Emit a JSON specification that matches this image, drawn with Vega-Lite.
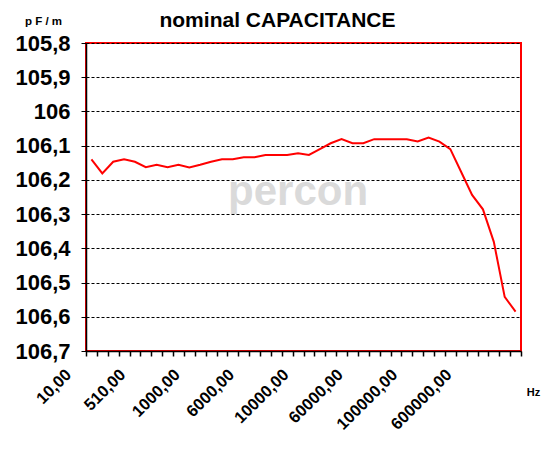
{
  "$schema": "https://vega.github.io/schema/vega-lite/v6.json",
  "autosize": {"type": "none"},
  "padding": {"left": 86, "top": 43, "right": 29, "bottom": 111},
  "width": 435,
  "height": 308,
  "config": {
    "font": "Liberation Sans",
    "view": {"stroke": "#FF0000", "strokeWidth": 2},
    "background": "white"
  },
  "title": {
    "text": "nominal CAPACITANCE",
    "fontSize": 21,
    "fontWeight": "bold",
    "color": "#000000",
    "anchor": "middle",
    "frame": "group",
    "dx": -26,
    "offset": -16
  },
  "datasets": {
    "capacitance": [
      {"freq": 10, "cap": 106.14},
      {"freq": 110, "cap": 106.181},
      {"freq": 210, "cap": 106.147},
      {"freq": 310, "cap": 106.14},
      {"freq": 410, "cap": 106.147},
      {"freq": 510, "cap": 106.163},
      {"freq": 610, "cap": 106.156},
      {"freq": 710, "cap": 106.163},
      {"freq": 810, "cap": 106.156},
      {"freq": 910, "cap": 106.164},
      {"freq": 1000, "cap": 106.156},
      {"freq": 2000, "cap": 106.147},
      {"freq": 3000, "cap": 106.14},
      {"freq": 4000, "cap": 106.14},
      {"freq": 5000, "cap": 106.134},
      {"freq": 6000, "cap": 106.134},
      {"freq": 7000, "cap": 106.127},
      {"freq": 8000, "cap": 106.127},
      {"freq": 9000, "cap": 106.127},
      {"freq": 9500, "cap": 106.122},
      {"freq": 10000, "cap": 106.127},
      {"freq": 20000, "cap": 106.11},
      {"freq": 30000, "cap": 106.093},
      {"freq": 40000, "cap": 106.081},
      {"freq": 50000, "cap": 106.093},
      {"freq": 60000, "cap": 106.093},
      {"freq": 70000, "cap": 106.081},
      {"freq": 80000, "cap": 106.081},
      {"freq": 90000, "cap": 106.081},
      {"freq": 95000, "cap": 106.081},
      {"freq": 100000, "cap": 106.088},
      {"freq": 200000, "cap": 106.076},
      {"freq": 300000, "cap": 106.088},
      {"freq": 400000, "cap": 106.11},
      {"freq": 500000, "cap": 106.177},
      {"freq": 600000, "cap": 106.244},
      {"freq": 700000, "cap": 106.286},
      {"freq": 800000, "cap": 106.381},
      {"freq": 900000, "cap": 106.542},
      {"freq": 1000000, "cap": 106.585}
    ],
    "watermark": [{"freq": 9500, "cap": 106.235, "t": "percon"}]
  },
  "encoding": {
    "x": {
      "field": "freq",
      "type": "ordinal",
      "sort": "ascending",
      "scale": {"type": "band", "paddingInner": 0, "paddingOuter": 0},
      "axis": {
        "title": "Hz",
        "titleFontSize": 11,
        "titleFontWeight": "bold",
        "titleColor": "#000000",
        "titleX": 447,
        "titleY": 44,
        "titleAlign": "center",
        "titleBaseline": "alphabetic",
        "titleAngle": 0,
        "labelAngle": -45,
        "labelAlign": "right",
        "labelBaseline": "top",
        "labelFontSize": 16.5,
        "labelFontWeight": "bold",
        "labelColor": "#000000",
        "labelPadding": 10,
        "labelOffset": -29,
        "labelOverlap": false,
        "labelExpr": "indexof([10,510,1000,6000,10000,60000,100000,600000], datum.value) >= 0 ? replace(format(datum.value, '.2f'), '.', ',') : ''",
        "tickBand": "extent",
        "tickColor": "#000000",
        "tickSize": 5,
        "tickWidth": 1.5,
        "domainColor": "#000000",
        "domainWidth": 1.5,
        "grid": false
      }
    },
    "y": {
      "field": "cap",
      "type": "quantitative",
      "scale": {"domain": [105.8, 106.7], "reverse": true, "zero": false, "nice": false},
      "axis": {
        "title": "p F / m",
        "titleFontSize": 11.5,
        "titleFontWeight": "bold",
        "titleColor": "#000000",
        "titleAngle": 0,
        "titleX": -43,
        "titleY": -19,
        "titleAlign": "center",
        "titleBaseline": "alphabetic",
        "values": [105.8, 105.9, 106, 106.1, 106.2, 106.3, 106.4, 106.5, 106.6, 106.7],
        "labelExpr": "replace(format(datum.value, '.1~f'), '.', ',')",
        "labelOverlap": false,
        "labelFontSize": 22,
        "labelFontWeight": "bold",
        "labelColor": "#000000",
        "labelPadding": 11,
        "tickColor": "#000000",
        "tickSize": 5,
        "domainColor": "#000000",
        "domainWidth": 1.5,
        "grid": true,
        "gridColor": "#000000",
        "gridDash": [3, 2],
        "gridWidth": 1
      }
    }
  },
  "layer": [
    {
      "data": {"name": "watermark"},
      "mark": {"type": "text", "fontSize": 42, "fontWeight": "bold", "color": "#dadada", "baseline": "middle", "align": "center"},
      "encoding": {"text": {"field": "t"}}
    },
    {
      "data": {"name": "capacitance"},
      "mark": {"type": "line", "color": "#FF0000", "strokeWidth": 2}
    }
  ]
}
